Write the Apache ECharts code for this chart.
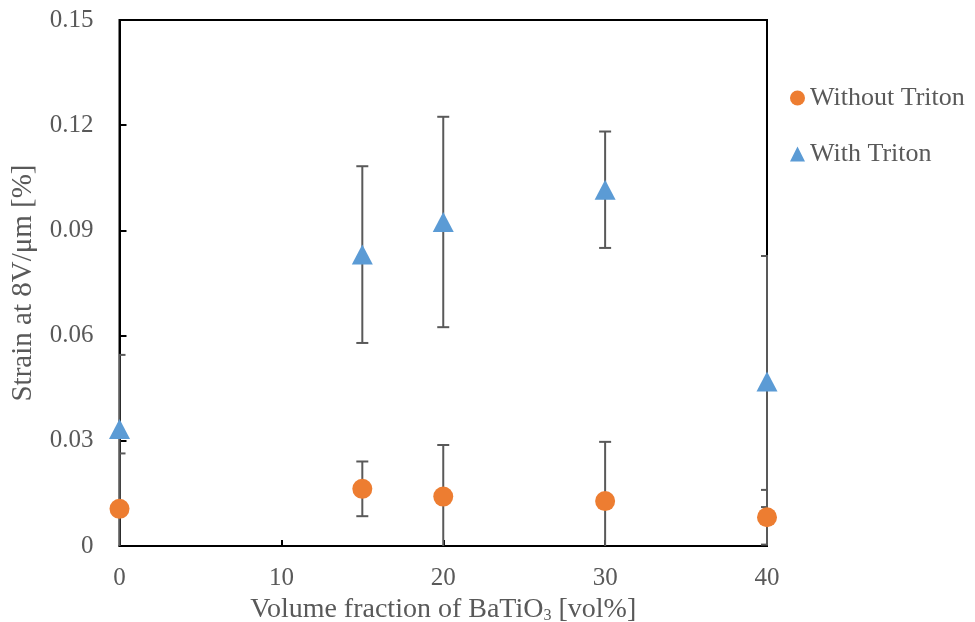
<!DOCTYPE html>
<html>
<head>
<meta charset="utf-8">
<script src="https://cdn.jsdelivr.net/npm/echarts@6/dist/echarts.min.js"></script>
<style>
  html, body { margin: 0; padding: 0; background: #fff; }
  #chart { width: 975px; height: 622px; }
</style>
</head>
<body>
<div id="chart"></div>
<script>
// Volume fraction of BaTiO3 [vol%]
const volumeFractions = [0, 15, 20, 30, 40];

// Strain at 8 V/um [%] and its standard deviation
const strainWithout = [0.0106, 0.0163, 0.0141, 0.0128, 0.0082];
const errorWithout  = [0.0158, 0.0078, 0.0147, 0.0169, 0.0078];

const strainWith = [0.0334, 0.0831, 0.0924, 0.1016, 0.0469];
const errorWith  = [0.0211, 0.0252, 0.0300, 0.0166, 0.0358];

const seriesNames = ['Without Triton', 'With Triton'];
const yTicks = [0, 0.03, 0.06, 0.09, 0.12, 0.15];
const xTicks = [0, 10, 20, 30, 40];

const textColor = '#595959';
const fontFamily = '"Liberation Serif", "DejaVu Serif", serif';

const pointsWithout = volumeFractions.map((x, i) => [x, strainWithout[i]]);
const pointsWith = volumeFractions.map((x, i) => [x, strainWith[i]]);
const barsWithout = volumeFractions.map((x, i) => [x, strainWithout[i], errorWithout[i]]);
const barsWith = volumeFractions.map((x, i) => [x, strainWith[i], errorWith[i]]);

// Vertical error bar with caps, drawn in data space
function renderErrorBar(params, api) {
  const x = api.value(0);
  const y = api.value(1);
  const e = api.value(2);
  const top = api.coord([x, y + e]);
  const bottom = api.coord([x, y - e]);
  const capHalf = 6;
  const style = { stroke: '#595959', lineWidth: 2 };
  return {
    type: 'group',
    children: [
      { type: 'line', shape: { x1: top[0], y1: top[1], x2: bottom[0], y2: bottom[1] }, style },
      { type: 'line', shape: { x1: top[0] - capHalf, y1: top[1], x2: top[0] + capHalf, y2: top[1] }, style },
      { type: 'line', shape: { x1: bottom[0] - capHalf, y1: bottom[1], x2: bottom[0] + capHalf, y2: bottom[1] }, style }
    ]
  };
}

const chart = echarts.init(document.getElementById('chart'), null, { renderer: 'canvas' });

chart.setOption({
  animation: false,
  textStyle: { fontFamily: fontFamily, color: textColor },
  grid: {
    left: 119.5, right: 208, top: 20, bottom: 76,
    containLabel: false, outerBoundsMode: 'none',
    show: true, borderColor: '#000', borderWidth: 2, backgroundColor: 'transparent'
  },
  legend: {
    orient: 'vertical',
    left: 785, top: 80,
    itemWidth: 15, itemHeight: 15, itemGap: 30,
    data: [
      { name: seriesNames[0], icon: 'circle' },
      { name: seriesNames[1], icon: 'triangle' }
    ],
    textStyle: { fontFamily: fontFamily, fontSize: 26, color: textColor, padding: [0, 0, 0, 0] }
  },
  xAxis: {
    type: 'value',
    min: xTicks[0], max: xTicks[xTicks.length - 1], interval: 10,
    name: 'Volume fraction of BaTiO{sub|3} [vol%]',
    nameLocation: 'middle', nameGap: 46,
    nameTextStyle: {
      fontFamily: fontFamily, fontSize: 28, color: textColor,
      rich: { sub: { fontFamily: fontFamily, fontSize: 16, color: textColor, verticalAlign: 'bottom', padding: [12, 0, 0, 0] } }
    },
    axisLine: { show: true, lineStyle: { color: '#000', width: 2 } },
    axisTick: { show: true, inside: true, length: 6, lineStyle: { color: '#000', width: 2 } },
    axisLabel: { fontFamily: fontFamily, fontSize: 25, color: textColor, margin: 20 },
    splitLine: { show: false }
  },
  yAxis: {
    type: 'value',
    min: yTicks[0], max: yTicks[yTicks.length - 1], interval: 0.03,
    name: 'Strain at 8V/μm [%]',
    nameLocation: 'middle', nameGap: 82, nameRotate: 90,
    nameTextStyle: { fontFamily: fontFamily, fontSize: 29, color: textColor },
    axisLine: { show: true, lineStyle: { color: '#000', width: 2 } },
    axisTick: { show: true, inside: true, length: 7, lineStyle: { color: '#000', width: 2 } },
    axisLabel: {
      fontFamily: fontFamily, fontSize: 25, color: textColor, margin: 26,
      formatter: v => (v === 0 ? '0' : v.toFixed(2))
    },
    splitLine: { show: false }
  },
  series: [
    {
      type: 'custom', name: 'errWithout', renderItem: renderErrorBar,
      data: barsWithout, clip: true, z: 2, silent: true,
      encode: { x: 0, y: 1 }
    },
    {
      type: 'custom', name: 'errWith', renderItem: renderErrorBar,
      data: barsWith, clip: true, z: 2, silent: true,
      encode: { x: 0, y: 1 }
    },
    {
      type: 'scatter', name: seriesNames[0], data: pointsWithout,
      symbol: 'circle', symbolSize: 20, z: 3,
      itemStyle: { color: '#ED7D31', opacity: 1 }
    },
    {
      type: 'scatter', name: seriesNames[1], data: pointsWith,
      symbol: 'triangle', symbolSize: [21, 20], z: 3,
      itemStyle: { color: '#5B9BD5', opacity: 1 }
    }
  ]
});
</script>
</body>
</html>
